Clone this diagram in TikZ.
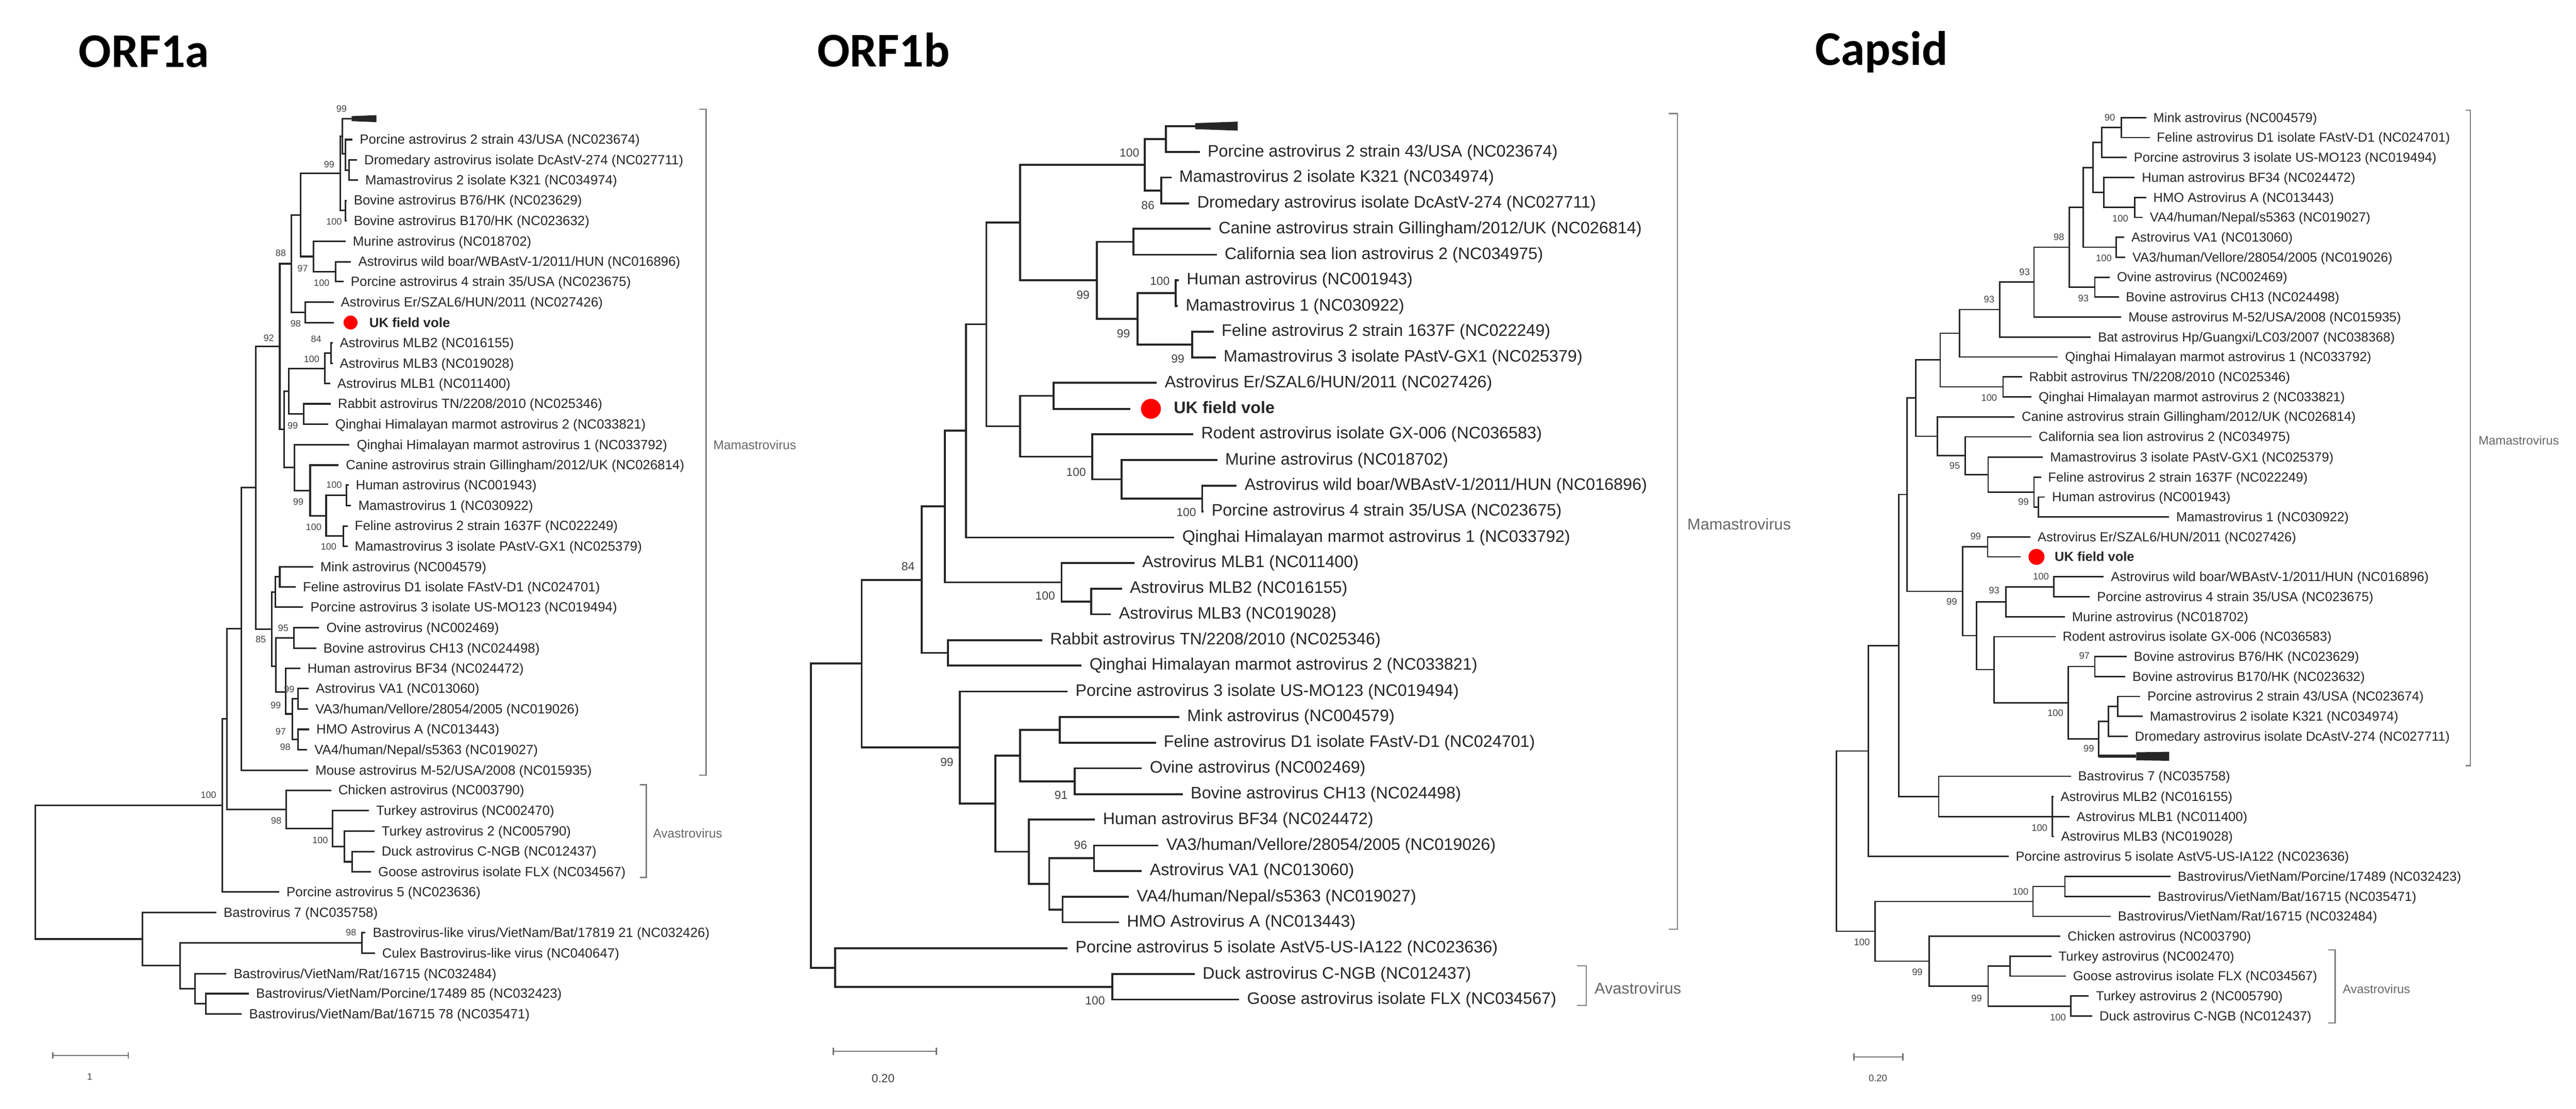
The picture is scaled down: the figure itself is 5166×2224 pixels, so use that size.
\documentclass[tikz,border=0pt]{standalone}
\usepackage{fontspec}
\setmainfont{Liberation Sans}
\newfontfamily\titlefont{Carlito}
\usepackage{tikz}

\begin{document}
\begin{tikzpicture}[x=0.01cm,y=-0.01cm]
	
	\tikzset{
		taxon/.style={anchor=west, inner ysep=0pt, text height=0.72em, text depth=0.2em,
			text=black!85, font=\fontsize{#1}{#1}\selectfont},
		boot/.style={inner sep=0pt, text=black!75, font=\fontsize{#1}{#1}\selectfont},
		clade/.style={anchor=west, inner sep=0pt, text=black!60, font=\fontsize{#1}{#1}\selectfont},
		bracket/.style={draw=black!50, line width=0.7pt},
		scalebar/.style={draw=black!55, line width=0.7pt},
		title/.style={anchor=base west, inner sep=0pt, font=\titlefont\bfseries\fontsize{27.6}{27.6}\selectfont},
		vole/.style={fill=red}
	}
	
	\useasboundingbox (0,0) rectangle (5166,2224);
	
	\node[title] (ta) at (157,135) {ORF1a};
	\node[title] (tb) at (1638,134) {ORF1b};
	\node[title] (tc) at (3640,131) {Capsid};
	
	% ORF1a
	\begin{scope}[line width=0.9pt, draw=black!85,
		leaf/.style={taxon=7.6, inner xsep=0.13cm}, bs/.style={boot=5.3}]
		\coordinate (a1) at (705,238);
		\node[leaf] (a2) at (707,280) {Porcine astrovirus 2 strain 43/USA (NC023674)};
		\node[leaf] (a3) at (716,321) {Dromedary astrovirus isolate DcAstV-274 (NC027711)};
		\node[leaf] (a4) at (718,361) {Mamastrovirus 2 isolate K321 (NC034974)};
		\node[leaf] (a5) at (695,402) {Bovine astrovirus B76/HK (NC023629)};
		\node[leaf] (a6) at (695,443) {Bovine astrovirus B170/HK (NC023632)};
		\node[leaf] (a7) at (693,484) {Murine astrovirus (NC018702)};
		\node[leaf] (a8) at (704,525) {Astrovirus wild boar/WBAstV-1/2011/HUN (NC016896)};
		\node[leaf] (a9) at (689,565) {Porcine astrovirus 4 strain 35/USA (NC023675)};
		\node[leaf] (a10) at (669,606) {Astrovirus Er/SZAL6/HUN/2011 (NC027426)};
		\node[leaf, inner xsep=0.7cm] (a11) at (669,647) {\textbf{UK field vole}};
		\node[leaf] (a12) at (667,688) {Astrovirus MLB2 (NC016155)};
		\node[leaf] (a13) at (667,729) {Astrovirus MLB3 (NC019028)};
		\node[leaf] (a14) at (662,769) {Astrovirus MLB1 (NC011400)};
		\node[leaf] (a15) at (663,810) {Rabbit astrovirus TN/2208/2010 (NC025346)};
		\node[leaf] (a16) at (658,851) {Qinghai Himalayan marmot astrovirus 2 (NC033821)};
		\node[leaf] (a17) at (701,892) {Qinghai Himalayan marmot astrovirus 1 (NC033792)};
		\node[leaf] (a18) at (679,933) {Canine astrovirus strain Gillingham/2012/UK (NC026814)};
		\node[leaf] (a19) at (699,973) {Human astrovirus (NC001943)};
		\node[leaf] (a20) at (704,1014) {Mamastrovirus 1 (NC030922)};
		\node[leaf] (a21) at (697,1055) {Feline astrovirus 2 strain 1637F (NC022249)};
		\node[leaf] (a22) at (697,1096) {Mamastrovirus 3 isolate PAstV-GX1 (NC025379)};
		\node[leaf] (a23) at (628,1137) {Mink astrovirus (NC004579)};
		\node[leaf] (a24) at (593,1177) {Feline astrovirus D1 isolate FAstV-D1 (NC024701)};
		\node[leaf] (a25) at (608,1218) {Porcine astrovirus 3 isolate US-MO123 (NC019494)};
		\node[leaf] (a26) at (640,1259) {Ovine astrovirus (NC002469)};
		\node[leaf] (a27) at (634,1300) {Bovine astrovirus CH13 (NC024498)};
		\node[leaf] (a28) at (602,1341) {Human astrovirus BF34 (NC024472)};
		\node[leaf] (a29) at (619,1381) {Astrovirus VA1 (NC013060)};
		\node[leaf] (a30) at (618,1422) {VA3/human/Vellore/28054/2005 (NC019026)};
		\node[leaf] (a31) at (620,1463) {HMO Astrovirus A (NC013443)};
		\node[leaf] (a32) at (616,1504) {VA4/human/Nepal/s5363 (NC019027)};
		\node[leaf] (a33) at (618,1545) {Mouse astrovirus M-52/USA/2008 (NC015935)};
		\node[leaf] (a34) at (664,1585) {Chicken astrovirus (NC003790)};
		\node[leaf] (a35) at (740,1626) {Turkey astrovirus (NC002470)};
		\node[leaf] (a36) at (751,1667) {Turkey astrovirus 2 (NC005790)};
		\node[leaf] (a37) at (751,1708) {Duck astrovirus C-NGB (NC012437)};
		\node[leaf] (a38) at (744,1749) {Goose astrovirus isolate FLX (NC034567)};
		\node[leaf] (a39) at (560,1789) {Porcine astrovirus 5 (NC023636)};
		\node[leaf] (a40) at (434,1830) {Bastrovirus 7 (NC035758)};
		\node[leaf] (a41) at (733,1871) {Bastrovirus-like virus/VietNam/Bat/17819 21 (NC032426)};
		\node[leaf] (a42) at (752,1912) {Culex Bastrovirus-like virus (NC040647)};
		\node[leaf] (a43) at (454,1953) {Bastrovirus/VietNam/Rat/16715 (NC032484)};
		\node[leaf] (a44) at (499,1993) {Bastrovirus/VietNam/Porcine/17489 85 (NC032423)};
		\node[leaf] (a45) at (485,2034) {Bastrovirus/VietNam/Bat/16715 78 (NC035471)};
		
		\coordinate (aRoot) at (71,1749.5);
		\coordinate (aA) at (446,1615.5);
		\coordinate (aB) at (455,1442);
		\coordinate (aC) at (484,1261);
		\coordinate (aD) at (513,977.5);
		\coordinate (aE) at (561,695);
		\coordinate (aE1) at (584,529);
		\coordinate (aF) at (603,431);
		\coordinate (aG) at (682,348);
		\coordinate (aGa) at (687,273);
		\coordinate (aG3) at (693,308);
		\coordinate (aG4) at (700,341);
		\coordinate (aG5) at (693,422.5);
		\coordinate (aH) at (629,514.5);
		\coordinate (aW) at (673,545);
		\coordinate (aEr) at (612,626.5);
		\coordinate (aE2) at (570,861.5);
		\coordinate (aM1) at (579,785);
		\coordinate (aL) at (651,739);
		\coordinate (aL2) at (664,708.5);
		\coordinate (aQ) at (609,830.5);
		\coordinate (aM2) at (590,938);
		\coordinate (aM3) at (622,984);
		\coordinate (aM4) at (654,1034.5);
		\coordinate (aHM) at (695,993.5);
		\coordinate (aFM) at (689,1075.5);
		\coordinate (aN9) at (545,1262);
		\coordinate (aN2) at (552,1187.5);
		\coordinate (aN1) at (561,1157);
		\coordinate (aN8) at (553,1336);
		\coordinate (aN3) at (589,1279.5);
		\coordinate (aN7) at (573,1388);
		\coordinate (aN6) at (586,1432);
		\coordinate (aN4) at (598,1401.5);
		\coordinate (aN5) at (598,1483.5);
		\coordinate (aV1) at (574,1623.5);
		\coordinate (aV2) at (667,1662);
		\coordinate (aV3) at (691,1698);
		\coordinate (aV4) at (706,1728.5);
		\coordinate (aBB) at (286,1883.5);
		\coordinate (aBN) at (361,1937);
		\coordinate (aBL) at (726,1891.5);
		\coordinate (aBV1) at (391,1983);
		\coordinate (aBV2) at (413,2013.5);
		
		\foreach \p/\c in {aRoot/aA, aRoot/aBB, aA/aB, aA/a39, aB/aC, aB/aV1, aC/aD, aC/a33,
			aD/aE, aD/aN9, aE/aE1, aE/aE2, aE1/aF, aE1/aEr, aF/aG, aF/aH,
			aG/aGa, aG/aG5, aGa/a1, aGa/aG3, aG3/a2, aG3/aG4, aG4/a3, aG4/a4, aG5/a5, aG5/a6,
			aH/a7, aH/aW, aW/a8, aW/a9, aEr/a10, aEr/a11, aE2/aM1, aE2/aM2,
			aM1/aL, aM1/aQ, aL/aL2, aL/a14, aL2/a12, aL2/a13, aQ/a15, aQ/a16,
			aM2/a17, aM2/aM3, aM3/a18, aM3/aM4, aM4/aHM, aM4/aFM, aHM/a19, aHM/a20,
			aFM/a21, aFM/a22, aN9/aN2, aN9/aN8, aN2/aN1, aN2/a25, aN1/a23, aN1/a24,
			aN8/aN3, aN8/aN7, aN3/a26, aN3/a27, aN7/a28, aN7/aN6, aN6/aN4, aN6/aN5,
			aN4/a29, aN4/a30, aN5/a31, aN5/a32, aV1/a34, aV1/aV2, aV2/a35, aV2/aV3,
			aV3/a36, aV3/aV4, aV4/a37, aV4/a38, aBB/a40, aBB/aBN, aBN/aBL, aBN/aBV1,
			aBL/a41, aBL/a42, aBV1/a43, aBV1/aBV2, aBV2/a44, aBV2/a45}
			\draw (\p) |- (\c);
		
		\fill[black!85] (a1) ++(0,-5) -- ++(50,-2) -- ++(0,14) -- ++(-50,-2) -- cycle;
		\fill[vole] ([xshift=0.34cm]a11.west) circle (0.14cm);
		
		\foreach \v/\x/\y [count=\i] in {99/685/218, 99/660/330, 100/670/445, 97/607/539,
			100/645/568, 88/563/508, 98/593/649, 92/539/678, 84/634/680, 100/625/720,
			99/587/854, 100/670/973, 99/598/1007, 100/629/1057, 100/659/1097, 95/568/1260,
			85/523/1283, 99/580/1383, 99/553/1415, 97/563/1467, 98/572/1498, 100/418/1595,
			98/554/1646, 100/642/1685, 98/704/1870}
			\node[bs] (abs\i) at (\x,\y) {\v};
		
		\draw[bracket] (1402,219) -| (1416,1555) -- (1402,1555);
		\node[clade=7.2] (amam) at (1429,892) {Mamastrovirus};
		\draw[bracket] (1283,1574) -| (1296,1760) -- (1283,1760);
		\node[clade=7.2] (aava) at (1308,1671) {Avastrovirus};
		
		\draw[scalebar] (106,2111) -- (106,2123) (106,2117) -- (257,2117) (257,2111) -- (257,2123);
		\node[bs] (ascale) at (180,2160) {1};
	\end{scope}
	
	% ORF1b
	\begin{scope}[line width=1.1pt, draw=black!85,
		leaf/.style={taxon=9.5, inner xsep=0.14cm}, bs/.style={boot=6.7}]
		\coordinate (b1) at (2397,253);
		\node[leaf] (b2) at (2406,305) {Porcine astrovirus 2 strain 43/USA (NC023674)};
		\node[leaf] (b3) at (2349,356) {Mamastrovirus 2 isolate K321 (NC034974)};
		\node[leaf] (b4) at (2385,408) {Dromedary astrovirus isolate DcAstV-274 (NC027711)};
		\node[leaf] (b5) at (2428,459) {Canine astrovirus strain Gillingham/2012/UK (NC026814)};
		\node[leaf] (b6) at (2440,511) {California sea lion astrovirus 2 (NC034975)};
		\node[leaf] (b7) at (2364,562) {Human astrovirus (NC001943)};
		\node[leaf] (b8) at (2362,614) {Mamastrovirus 1 (NC030922)};
		\node[leaf] (b9) at (2434,665) {Feline astrovirus 2 strain 1637F (NC022249)};
		\node[leaf] (b10) at (2438,717) {Mamastrovirus 3 isolate PAstV-GX1 (NC025379)};
		\node[leaf] (b11) at (2320,768) {Astrovirus Er/SZAL6/HUN/2011 (NC027426)};
		\node[leaf, inner xsep=0.85cm] (b12) at (2267,820) {\textbf{UK field vole}};
		\node[leaf] (b13) at (2393,871) {Rodent astrovirus isolate GX-006 (NC036583)};
		\node[leaf] (b14) at (2441,923) {Murine astrovirus (NC018702)};
		\node[leaf] (b15) at (2480,974) {Astrovirus wild boar/WBAstV-1/2011/HUN (NC016896)};
		\node[leaf] (b16) at (2414,1026) {Porcine astrovirus 4 strain 35/USA (NC023675)};
		\node[leaf] (b17) at (2355,1078) {Qinghai Himalayan marmot astrovirus 1 (NC033792)};
		\node[leaf] (b18) at (2275,1129) {Astrovirus MLB1 (NC011400)};
		\node[leaf] (b19) at (2250,1181) {Astrovirus MLB2 (NC016155)};
		\node[leaf] (b20) at (2228,1232) {Astrovirus MLB3 (NC019028)};
		\node[leaf] (b21) at (2090,1284) {Rabbit astrovirus TN/2208/2010 (NC025346)};
		\node[leaf] (b22) at (2169,1335) {Qinghai Himalayan marmot astrovirus 2 (NC033821)};
		\node[leaf] (b23) at (2141,1387) {Porcine astrovirus 3 isolate US-MO123 (NC019494)};
		\node[leaf] (b24) at (2365,1438) {Mink astrovirus (NC004579)};
		\node[leaf] (b25) at (2318,1490) {Feline astrovirus D1 isolate FAstV-D1 (NC024701)};
		\node[leaf] (b26) at (2290,1541) {Ovine astrovirus (NC002469)};
		\node[leaf] (b27) at (2372,1593) {Bovine astrovirus CH13 (NC024498)};
		\node[leaf] (b28) at (2196,1644) {Human astrovirus BF34 (NC024472)};
		\node[leaf] (b29) at (2323,1696) {VA3/human/Vellore/28054/2005 (NC019026)};
		\node[leaf] (b30) at (2290,1747) {Astrovirus VA1 (NC013060)};
		\node[leaf] (b31) at (2264,1799) {VA4/human/Nepal/s5363 (NC019027)};
		\node[leaf] (b32) at (2244,1850) {HMO Astrovirus A (NC013443)};
		\node[leaf] (b33) at (2141,1902) {Porcine astrovirus 5 isolate AstV5-US-IA122 (NC023636)};
		\node[leaf] (b34) at (2396,1954) {Duck astrovirus C-NGB (NC012437)};
		\node[leaf] (b35) at (2485,2005) {Goose astrovirus isolate FLX (NC034567)};
		
		\coordinate (bRoot) at (1626,1636);
		\coordinate (bA) at (1728,1331);
		\coordinate (bB) at (1848,1163);
		\coordinate (bC) at (1895,1016);
		\coordinate (bD) at (1937,864);
		\coordinate (bE) at (1978,650.5);
		\coordinate (bF) at (2046,446);
		\coordinate (bG) at (2296,330.5);
		\coordinate (bH) at (2338,279);
		\coordinate (bI) at (2329,382);
		\coordinate (bJ) at (2200,562);
		\coordinate (bK) at (2273,485);
		\coordinate (bL) at (2281,639.5);
		\coordinate (bM) at (2358,588);
		\coordinate (bN) at (2391,691);
		\coordinate (bO) at (2046,855);
		\coordinate (bP) at (2113,794);
		\coordinate (bQ) at (2190,916);
		\coordinate (bR) at (2249,961.5);
		\coordinate (bS) at (2411,1000);
		\coordinate (bT) at (2129,1168);
		\coordinate (bU) at (2188,1206.5);
		\coordinate (bV) at (1901,1309.5);
		\coordinate (bW) at (1925,1499.5);
		\coordinate (bX) at (1996,1612);
		\coordinate (bY) at (2046,1515.5);
		\coordinate (bZ) at (2125,1464);
		\coordinate (bAA) at (2155,1567);
		\coordinate (bAB) at (2063,1708.5);
		\coordinate (bAC) at (2104,1773);
		\coordinate (bAD) at (2194,1721.5);
		\coordinate (bAE) at (2131,1824.5);
		\coordinate (bLO) at (1675,1941);
		\coordinate (bDG) at (2231,1979.5);
		
		\foreach \p/\c in {bRoot/bA, bRoot/bLO, bA/bB, bA/bW, bB/bC, bB/bV, bC/bD, bC/bT,
			bD/bE, bD/b17, bE/bF, bE/bO, bF/bG, bF/bJ, bG/bH, bG/bI, bH/b1, bH/b2,
			bI/b3, bI/b4, bJ/bK, bJ/bL, bK/b5, bK/b6, bL/bM, bL/bN, bM/b7, bM/b8,
			bN/b9, bN/b10, bO/bP, bO/bQ, bP/b11, bP/b12, bQ/b13, bQ/bR, bR/b14, bR/bS,
			bS/b15, bS/b16, bT/b18, bT/bU, bU/b19, bU/b20, bV/b21, bV/b22, bW/b23, bW/bX,
			bX/bY, bX/bAB, bY/bZ, bY/bAA, bZ/b24, bZ/b25, bAA/b26, bAA/b27, bAB/b28, bAB/bAC,
			bAC/bAD, bAC/bAE, bAD/b29, bAD/b30, bAE/b31, bAE/b32, bLO/b33, bLO/bDG,
			bDG/b34, bDG/b35}
			\draw (\p) |- (\c);
		
		\fill[black!85] (b1) ++(0,-6) -- ++(85,-3) -- ++(0,18) -- ++(-85,-3) -- cycle;
		\fill[vole] ([xshift=0.41cm]b12.west) circle (0.2cm);
		
		\foreach \v/\x/\y [count=\i] in {100/2265/306, 86/2302/412, 99/2172/592, 100/2326/564,
			99/2253/669, 99/2362/720, 100/2158/947, 100/2379/1028, 84/1821/1136, 100/2096/1195,
			99/1899/1529, 91/2128/1595, 96/2167/1695, 100/2196/2007}
			\node[bs] (bbs\i) at (\x,\y) {\v};
		
		\draw[bracket] (3347,228) -| (3364,1864) -- (3347,1864);
		\node[clade=9] (bmam) at (3382,1051) {Mamastrovirus};
		\draw[bracket] (3163,1937) -| (3181,2017) -- (3163,2017);
		\node[clade=9] (bava) at (3196,1982) {Avastrovirus};
		
		\draw[scalebar] (1671,2102) -- (1671,2116) (1671,2109) -- (1878,2109) (1878,2102) -- (1878,2116);
		\node[bs] (bscale) at (1771,2163) {0.20};
	\end{scope}
	
	% Capsid
	\begin{scope}[line width=0.8pt, draw=black!85,
		leaf/.style={taxon=7.5, inner xsep=0.13cm}, bs/.style={boot=5.4}]
		\node[leaf] (c1) at (4304,236) {Mink astrovirus (NC004579)};
		\node[leaf] (c2) at (4311,276) {Feline astrovirus D1 isolate FAstV-D1 (NC024701)};
		\node[leaf] (c3) at (4265,316) {Porcine astrovirus 3 isolate US-MO123 (NC019494)};
		\node[leaf] (c4) at (4281,356) {Human astrovirus BF34 (NC024472)};
		\node[leaf] (c5) at (4304,396) {HMO Astrovirus A (NC013443)};
		\node[leaf] (c6) at (4297,436) {VA4/human/Nepal/s5363 (NC019027)};
		\node[leaf] (c7) at (4260,476) {Astrovirus VA1 (NC013060)};
		\node[leaf] (c8) at (4262,516) {VA3/human/Vellore/28054/2005 (NC019026)};
		\node[leaf] (c9) at (4231,556) {Ovine astrovirus (NC002469)};
		\node[leaf] (c10) at (4249,596) {Bovine astrovirus CH13 (NC024498)};
		\node[leaf] (c11) at (4254,636) {Mouse astrovirus M-52/USA/2008 (NC015935)};
		\node[leaf] (c12) at (4193,676) {Bat astrovirus Hp/Guangxi/LC03/2007 (NC038368)};
		\node[leaf] (c13) at (4127,716) {Qinghai Himalayan marmot astrovirus 1 (NC033792)};
		\node[leaf] (c14) at (4055,756) {Rabbit astrovirus TN/2208/2010 (NC025346)};
		\node[leaf] (c15) at (4074,796) {Qinghai Himalayan marmot astrovirus 2 (NC033821)};
		\node[leaf] (c16) at (4040,836) {Canine astrovirus strain Gillingham/2012/UK (NC026814)};
		\node[leaf] (c17) at (4074,876) {California sea lion astrovirus 2 (NC034975)};
		\node[leaf] (c18) at (4097,917) {Mamastrovirus 3 isolate PAstV-GX1 (NC025379)};
		\node[leaf] (c19) at (4093,957) {Feline astrovirus 2 strain 1637F (NC022249)};
		\node[leaf] (c20) at (4101,997) {Human astrovirus (NC001943)};
		\node[leaf] (c21) at (4350,1037) {Mamastrovirus 1 (NC030922)};
		\node[leaf] (c22) at (4072,1077) {Astrovirus Er/SZAL6/HUN/2011 (NC027426)};
		\node[leaf, inner xsep=0.67cm] (c23) at (4052,1117) {\textbf{UK field vole}};
		\node[leaf] (c24) at (4219,1157) {Astrovirus wild boar/WBAstV-1/2011/HUN (NC016896)};
		\node[leaf] (c25) at (4191,1197) {Porcine astrovirus 4 strain 35/USA (NC023675)};
		\node[leaf] (c26) at (4141,1237) {Murine astrovirus (NC018702)};
		\node[leaf] (c27) at (4122,1277) {Rodent astrovirus isolate GX-006 (NC036583)};
		\node[leaf] (c28) at (4265,1317) {Bovine astrovirus B76/HK (NC023629)};
		\node[leaf] (c29) at (4262,1357) {Bovine astrovirus B170/HK (NC023632)};
		\node[leaf] (c30) at (4292,1397) {Porcine astrovirus 2 strain 43/USA (NC023674)};
		\node[leaf] (c31) at (4297,1437) {Mamastrovirus 2 isolate K321 (NC034974)};
		\node[leaf] (c32) at (4267,1477) {Dromedary astrovirus isolate DcAstV-274 (NC027711)};
		\coordinate (c33) at (4284,1517);
		\node[leaf] (c34) at (4153,1557) {Bastrovirus 7 (NC035758)};
		\node[leaf] (c35) at (4118,1598) {Astrovirus MLB2 (NC016155)};
		\node[leaf] (c36) at (4150,1638) {Astrovirus MLB1 (NC011400)};
		\node[leaf] (c37) at (4119,1678) {Astrovirus MLB3 (NC019028)};
		\node[leaf] (c38) at (4028,1718) {Porcine astrovirus 5 isolate AstV5-US-IA122 (NC023636)};
		\node[leaf] (c39) at (4353,1758) {Bastrovirus/VietNam/Porcine/17489 (NC032423)};
		\node[leaf] (c40) at (4313,1798) {Bastrovirus/VietNam/Bat/16715 (NC035471)};
		\node[leaf] (c41) at (4233,1838) {Bastrovirus/VietNam/Rat/16715 (NC032484)};
		\node[leaf] (c42) at (4132,1878) {Chicken astrovirus (NC003790)};
		\node[leaf] (c43) at (4114,1918) {Turkey astrovirus (NC002470)};
		\node[leaf] (c44) at (4143,1958) {Goose astrovirus isolate FLX (NC034567)};
		\node[leaf] (c45) at (4189,1998) {Turkey astrovirus 2 (NC005790)};
		\node[leaf] (c46) at (4196,2038) {Duck astrovirus C-NGB (NC012437)};
		
		\coordinate (cRoot) at (3683,1687);
		\coordinate (cA) at (3746.5,1506.5);
		\coordinate (cB) at (3808,1295);
		\coordinate (cC) at (3824,992);
		\coordinate (cD) at (3842,798.5);
		\coordinate (cE) at (3891,722);
		\coordinate (cF) at (3930,668.5);
		\coordinate (cG) at (4010,621);
		\coordinate (cH) at (4079,566);
		\coordinate (cI) at (4150,496);
		\coordinate (cJ) at (4178,416);
		\coordinate (cK) at (4197,336);
		\coordinate (cL) at (4215,286);
		\coordinate (cM) at (4254,256);
		\coordinate (cN) at (4219,386);
		\coordinate (cO) at (4281,416);
		\coordinate (cP) at (4244,496);
		\coordinate (cQ) at (4201,576);
		\coordinate (cR) at (4017,776);
		\coordinate (cS) at (3885,875);
		\coordinate (cT) at (3941,914);
		\coordinate (cU) at (3987,952);
		\coordinate (cV) at (4079,987);
		\coordinate (cW) at (4088,1017);
		\coordinate (cX) at (3936,1186);
		\coordinate (cY) at (3986,1097);
		\coordinate (cZ) at (3964,1275);
		\coordinate (cAA) at (4023,1207);
		\coordinate (cAB) at (4119,1177);
		\coordinate (cAC) at (3999,1343);
		\coordinate (cAD) at (4148,1409.5);
		\coordinate (cAE) at (4201,1337);
		\coordinate (cAF) at (4209,1482);
		\coordinate (cAG) at (4228,1447);
		\coordinate (cAH) at (4247,1417);
		\coordinate (cAI) at (3888,1597.5);
		\coordinate (cAJ) at (4116,1638);
		\coordinate (cAK) at (3760,1868);
		\coordinate (cAL) at (4077,1808);
		\coordinate (cAM) at (4141,1778);
		\coordinate (cAN) at (3869,1928);
		\coordinate (cAO) at (3987,1978);
		\coordinate (cAP) at (4031,1938);
		\coordinate (cAQ) at (4153,2018);
		
		\foreach \p/\c in {cRoot/cA, cRoot/cAK, cA/cB, cA/c38, cB/cC, cB/cAI, cC/cD, cC/cX,
			cD/cE, cD/cS, cE/cF, cE/cR, cF/cG, cF/c13, cG/cH, cG/c12, cH/cI, cH/c11,
			cI/cJ, cI/cQ, cJ/cK, cJ/cP, cK/cL, cK/cN, cL/cM, cL/c3, cM/c1, cM/c2,
			cN/c4, cN/cO, cO/c5, cO/c6, cP/c7, cP/c8, cQ/c9, cQ/c10, cR/c14, cR/c15,
			cS/c16, cS/cT, cT/c17, cT/cU, cU/c18, cU/cV, cV/c19, cV/cW, cW/c20, cW/c21,
			cX/cY, cX/cZ, cY/c22, cY/c23, cZ/cAA, cZ/cAC, cAA/cAB, cAA/c26, cAB/c24, cAB/c25,
			cAC/c27, cAC/cAD, cAD/cAE, cAD/cAF, cAE/c28, cAE/c29, cAF/cAG, cAF/c33,
			cAG/cAH, cAG/c32, cAH/c30, cAH/c31, cAI/c34, cAI/cAJ, cAJ/c35, cAJ/c36, cAJ/c37,
			cAK/cAL, cAK/cAN, cAL/cAM, cAL/c41, cAM/c39, cAM/c40, cAN/c42, cAN/cAO,
			cAO/cAP, cAO/cAQ, cAP/c43, cAP/c44, cAQ/c45, cAQ/c46}
			\draw (\p) |- (\c);
		
		\draw[line width=1.8pt] (cAF |- c33) -- (c33);
		\fill[black!85] (c33) ++(0,-8) -- ++(66,-1) -- ++(0,18) -- ++(-66,-1) -- cycle;
		\fill[vole] ([xshift=0.32cm]c23.west) circle (0.16cm);
		
		\foreach \v/\x/\y [count=\i] in {90/4231/236, 100/4252/438, 98/4129/475, 100/4219/518,
			93/4060/546, 93/3989/600, 93/4178/598, 100/3989/798, 95/3920/934, 99/4058/1007,
			99/3962/1076, 99/3914/1207, 93/3999/1184, 100/4093/1156, 97/4180/1315,
			100/4122/1430, 99/4189/1501, 100/4090/1660, 100/4052/1789, 100/3734/1890,
			99/3845/1950, 99/3964/2002, 100/4127/2041}
			\node[bs] (cbs\i) at (\x,\y) {\v};
		
		\draw[bracket] (4945,221) -| (4954,1536) -- (4945,1536);
		\node[clade=7] (cmam) at (4969,883) {Mamastrovirus};
		\draw[bracket] (4669,1905) -| (4683,2052) -- (4669,2052);
		\node[clade=7] (cava) at (4697,1984) {Avastrovirus};
		
		\draw[scalebar] (3718,2113) -- (3718,2127) (3718,2120) -- (3816,2120) (3816,2113) -- (3816,2127);
		\node[bs] (cscale) at (3766,2163) {0.20};
	\end{scope}
	
\end{tikzpicture}
\end{document}
